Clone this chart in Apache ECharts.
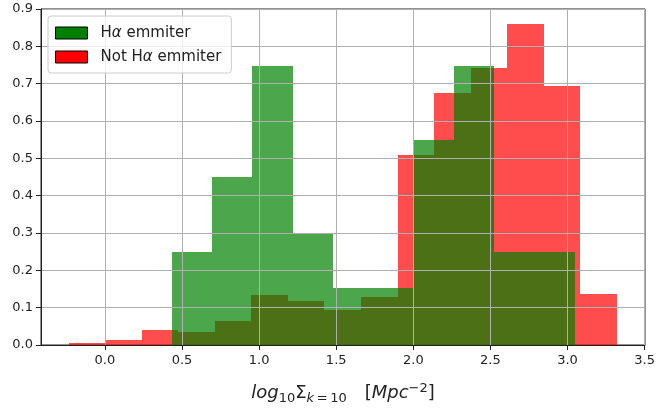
<!DOCTYPE html>
<html>
<head>
<meta charset="utf-8">
<script src="https://cdn.jsdelivr.net/npm/echarts@6/dist/echarts.min.js"></script>
<style>
  html, body { margin: 0; padding: 0; background: #fff; }
  #chart { width: 658px; height: 410px; }
</style>
</head>
<body>
<div id="chart"></div>
<script>
// Bin edges and normalised counts of the two histograms
const notHaEdges = [-0.235, 0.002, 0.239, 0.476, 0.713, 0.950, 1.187, 1.424, 1.661, 1.898, 2.135, 2.372, 2.609, 2.846, 3.082, 3.319];
const notHaValues = [0.005, 0.013, 0.039, 0.035, 0.063, 0.134, 0.118, 0.094, 0.129, 0.509, 0.674, 0.741, 0.861, 0.695, 0.137];

const haEdges = [0.433, 0.694, 0.956, 1.217, 1.479, 1.740, 2.001, 2.263, 2.524, 2.785, 3.047];
const haValues = [0.250, 0.449, 0.748, 0.298, 0.152, 0.152, 0.549, 0.748, 0.250, 0.250];

const seriesNames = ['H\u03b1 emmiter', 'Not H\u03b1 emmiter'];
const xTicks = [0.0, 0.5, 1.0, 1.5, 2.0, 2.5, 3.0, 3.5];
const xRange = [-0.414, 3.502];
const yRange = [0, 0.9];
const yStep = 0.1;

const FONT = 'DejaVu Sans';
const TEXT = '#222';

function binsOf(edges, values) {
  return values.map((v, i) => [edges[i], edges[i + 1], v]);
}

// Each bin is a rectangle snapped to whole pixels so neighbouring
// translucent bins do not leave seams where their edges meet.
function histItem(color) {
  return function (params, api) {
    const topLeft = api.coord([api.value(0), api.value(2)]);
    const bottomRight = api.coord([api.value(1), 0]);
    const x0 = Math.round(topLeft[0]);
    const x1 = Math.round(bottomRight[0]);
    const y0 = Math.round(topLeft[1]);
    const y1 = Math.round(bottomRight[1]);
    return {
      type: 'rect',
      shape: { x: x0, y: y0, width: x1 - x0, height: y1 - y0 },
      style: { fill: color, opacity: 0.7 }
    };
  };
}

const chart = echarts.init(document.getElementById('chart'), null, { renderer: 'canvas' });

chart.setOption({
  animation: false,
  backgroundColor: '#fff',
  textStyle: { fontFamily: FONT },
  grid: {
    left: 41, right: 11, top: 9, bottom: 65,
    show: true, borderColor: TEXT, borderWidth: 1, backgroundColor: 'transparent'
  },
  legend: {
    orient: 'vertical',
    left: 48, top: 16,
    padding: [8, 10, 7, 7],
    itemWidth: 32, itemHeight: 12, itemGap: 6,
    backgroundColor: 'rgba(255,255,255,0.8)',
    borderColor: '#cccccc', borderWidth: 1, borderRadius: 3,
    data: [
      { name: seriesNames[0], icon: 'rect', itemStyle: { color: '#008000', borderColor: '#000', borderWidth: 1, opacity: 1 } },
      { name: seriesNames[1], icon: 'rect', itemStyle: { color: '#ff0000', borderColor: '#000', borderWidth: 1, opacity: 1 } }
    ],
    formatter: name => '{t|' + name.replace('\u03b1', '}{i|\u03b1}{t|') + '}',
    textStyle: {
      fontFamily: FONT, fontSize: 15, color: TEXT, lineHeight: 18,
      rich: {
        t: { fontFamily: FONT, fontSize: 15, color: TEXT, lineHeight: 18 },
        i: { fontFamily: FONT, fontSize: 15, fontStyle: 'italic', color: TEXT, lineHeight: 18 }
      },
      padding: [0, 0, 0, 8]
    }
  },
  xAxis: {
    type: 'value',
    min: xRange[0], max: xRange[1],
    z: 3,
    name: '{it|log}{sub|10}{rm|\u03a3}{subi|k}{sub|\u2009=\u200910}{rm|\u2003[}{it|Mpc}{sup|\u22122}{rm|]}',
    nameLocation: 'middle',
    nameGap: 37,
    nameTextStyle: {
      rich: {
        it: { fontFamily: FONT, fontStyle: 'italic', fontSize: 18, color: TEXT, lineHeight: 23, verticalAlign: 'middle' },
        rm: { fontFamily: FONT, fontSize: 18, color: TEXT, lineHeight: 23, verticalAlign: 'middle' },
        sub: { fontFamily: FONT, fontSize: 13, color: TEXT, lineHeight: 13, verticalAlign: 'bottom' },
        subi: { fontFamily: FONT, fontStyle: 'italic', fontSize: 13, color: TEXT, lineHeight: 13, verticalAlign: 'bottom' },
        sup: { fontFamily: FONT, fontSize: 13, color: TEXT, lineHeight: 13, verticalAlign: 'top' }
      }
    },
    axisLine: { show: true, onZero: false, lineStyle: { color: TEXT, width: 1 } },
    axisTick: { show: true, inside: false, length: 5, customValues: xTicks, lineStyle: { color: TEXT } },
    axisLabel: {
      customValues: xTicks, margin: 9,
      fontFamily: FONT, fontSize: 13, color: TEXT,
      formatter: v => v.toFixed(1)
    },
    splitLine: { show: true, lineStyle: { color: '#b0b0b0', width: 1 } }
  },
  yAxis: {
    type: 'value',
    min: yRange[0], max: yRange[1], interval: yStep,
    z: 3,
    axisLine: { show: true, onZero: false, lineStyle: { color: TEXT, width: 1 } },
    axisTick: { show: true, inside: false, length: 5, lineStyle: { color: TEXT } },
    axisLabel: {
      margin: 8, fontFamily: FONT, fontSize: 13, color: TEXT,
      formatter: v => v.toFixed(1)
    },
    splitLine: { show: true, lineStyle: { color: '#b0b0b0', width: 1 } }
  },
  series: [
    {
      name: seriesNames[1],
      type: 'custom',
      renderItem: histItem('#ff0000'),
      encode: { x: [0, 1], y: 2 },
      itemStyle: { color: '#ff0000' },
      data: binsOf(notHaEdges, notHaValues),
      z: 1
    },
    {
      name: seriesNames[0],
      type: 'custom',
      renderItem: histItem('#008000'),
      encode: { x: [0, 1], y: 2 },
      itemStyle: { color: '#008000' },
      data: binsOf(haEdges, haValues),
      z: 2
    }
  ]
});
</script>
</body>
</html>
